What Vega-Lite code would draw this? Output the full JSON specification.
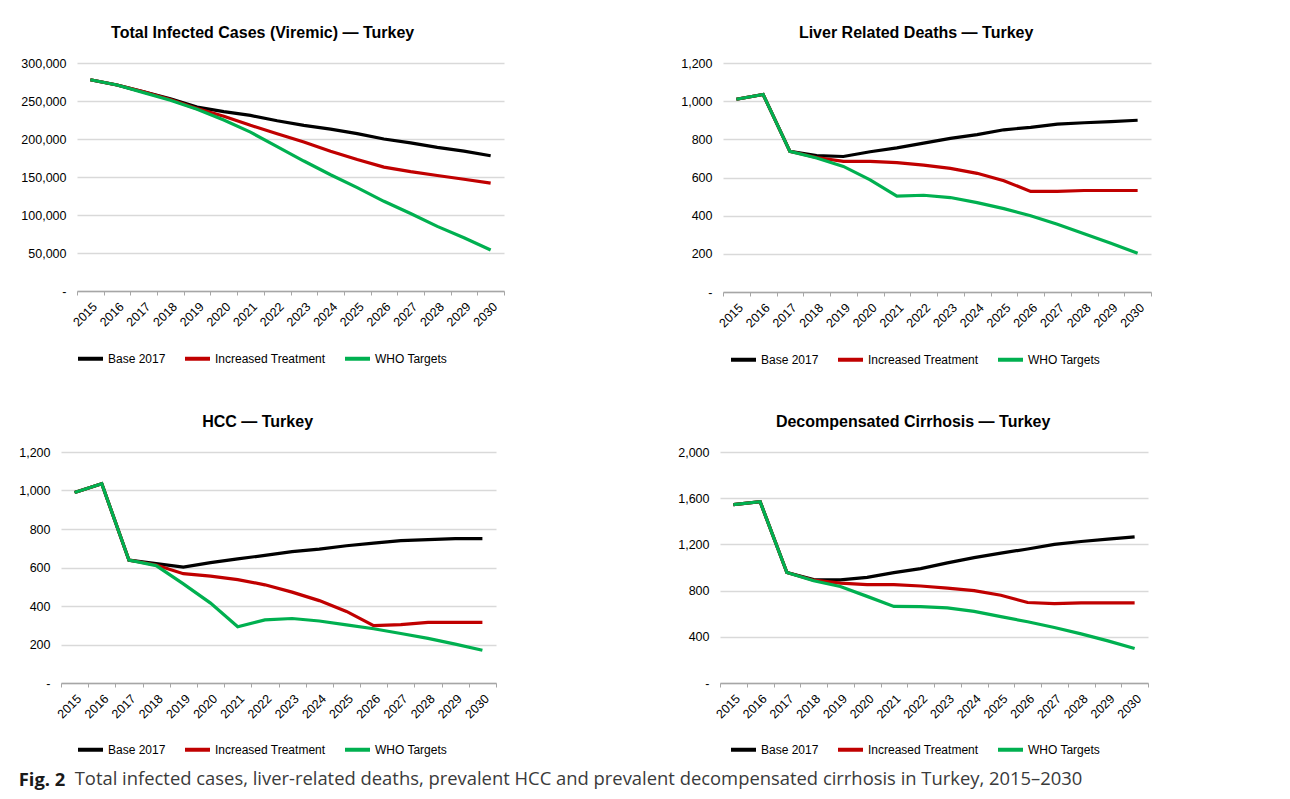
{
  "$schema": "https://vega.github.io/schema/vega-lite/v6.json",
  "padding": {"left": 18, "top": 25, "right": 10, "bottom": 5},
  "background": "#ffffff",
  "datasets": {
    "total": [
      {"year": "2015", "Base 2017": 278000, "Increased Treatment": 278000, "WHO Targets": 278000},
      {"year": "2016", "Base 2017": 271000, "Increased Treatment": 271000, "WHO Targets": 271000},
      {"year": "2017", "Base 2017": 262000, "Increased Treatment": 262000, "WHO Targets": 261000},
      {"year": "2018", "Base 2017": 253000, "Increased Treatment": 252000, "WHO Targets": 251000},
      {"year": "2019", "Base 2017": 242000, "Increased Treatment": 240000, "WHO Targets": 239000},
      {"year": "2020", "Base 2017": 236000, "Increased Treatment": 230000, "WHO Targets": 225000},
      {"year": "2021", "Base 2017": 231000, "Increased Treatment": 218000, "WHO Targets": 209000},
      {"year": "2022", "Base 2017": 224000, "Increased Treatment": 207000, "WHO Targets": 190000},
      {"year": "2023", "Base 2017": 218000, "Increased Treatment": 196000, "WHO Targets": 171000},
      {"year": "2024", "Base 2017": 213000, "Increased Treatment": 184000, "WHO Targets": 153000},
      {"year": "2025", "Base 2017": 207000, "Increased Treatment": 173000, "WHO Targets": 136000},
      {"year": "2026", "Base 2017": 200000, "Increased Treatment": 163000, "WHO Targets": 118000},
      {"year": "2027", "Base 2017": 195000, "Increased Treatment": 157000, "WHO Targets": 102000},
      {"year": "2028", "Base 2017": 189000, "Increased Treatment": 152000, "WHO Targets": 85000},
      {"year": "2029", "Base 2017": 184000, "Increased Treatment": 147000, "WHO Targets": 70000},
      {"year": "2030", "Base 2017": 178000, "Increased Treatment": 142000, "WHO Targets": 54000}
    ],
    "deaths": [
      {"year": "2015", "Base 2017": 1010, "Increased Treatment": 1010, "WHO Targets": 1010},
      {"year": "2016", "Base 2017": 1035, "Increased Treatment": 1035, "WHO Targets": 1035},
      {"year": "2017", "Base 2017": 737, "Increased Treatment": 737, "WHO Targets": 737},
      {"year": "2018", "Base 2017": 715, "Increased Treatment": 705, "WHO Targets": 702},
      {"year": "2019", "Base 2017": 710, "Increased Treatment": 685, "WHO Targets": 658},
      {"year": "2020", "Base 2017": 735, "Increased Treatment": 685, "WHO Targets": 588},
      {"year": "2021", "Base 2017": 755, "Increased Treatment": 678, "WHO Targets": 502},
      {"year": "2022", "Base 2017": 780, "Increased Treatment": 665, "WHO Targets": 507},
      {"year": "2023", "Base 2017": 805, "Increased Treatment": 648, "WHO Targets": 495},
      {"year": "2024", "Base 2017": 825, "Increased Treatment": 622, "WHO Targets": 468},
      {"year": "2025", "Base 2017": 850, "Increased Treatment": 583, "WHO Targets": 437},
      {"year": "2026", "Base 2017": 863, "Increased Treatment": 527, "WHO Targets": 400},
      {"year": "2027", "Base 2017": 880, "Increased Treatment": 527, "WHO Targets": 355},
      {"year": "2028", "Base 2017": 887, "Increased Treatment": 532, "WHO Targets": 305},
      {"year": "2029", "Base 2017": 893, "Increased Treatment": 532, "WHO Targets": 255},
      {"year": "2030", "Base 2017": 900, "Increased Treatment": 532, "WHO Targets": 203}
    ],
    "hcc": [
      {"year": "2015", "Base 2017": 990, "Increased Treatment": 990, "WHO Targets": 990},
      {"year": "2016", "Base 2017": 1035, "Increased Treatment": 1035, "WHO Targets": 1035},
      {"year": "2017", "Base 2017": 638, "Increased Treatment": 638, "WHO Targets": 638},
      {"year": "2018", "Base 2017": 620, "Increased Treatment": 613, "WHO Targets": 610},
      {"year": "2019", "Base 2017": 602, "Increased Treatment": 568, "WHO Targets": 515},
      {"year": "2020", "Base 2017": 625, "Increased Treatment": 555, "WHO Targets": 415},
      {"year": "2021", "Base 2017": 645, "Increased Treatment": 537, "WHO Targets": 292},
      {"year": "2022", "Base 2017": 663, "Increased Treatment": 510, "WHO Targets": 328},
      {"year": "2023", "Base 2017": 682, "Increased Treatment": 472, "WHO Targets": 335},
      {"year": "2024", "Base 2017": 695, "Increased Treatment": 428, "WHO Targets": 322},
      {"year": "2025", "Base 2017": 713, "Increased Treatment": 372, "WHO Targets": 302},
      {"year": "2026", "Base 2017": 727, "Increased Treatment": 298, "WHO Targets": 282},
      {"year": "2027", "Base 2017": 740, "Increased Treatment": 303, "WHO Targets": 257},
      {"year": "2028", "Base 2017": 745, "Increased Treatment": 315, "WHO Targets": 232},
      {"year": "2029", "Base 2017": 750, "Increased Treatment": 315, "WHO Targets": 202},
      {"year": "2030", "Base 2017": 750, "Increased Treatment": 315, "WHO Targets": 170}
    ],
    "dc": [
      {"year": "2015", "Base 2017": 1545, "Increased Treatment": 1545, "WHO Targets": 1545},
      {"year": "2016", "Base 2017": 1570, "Increased Treatment": 1570, "WHO Targets": 1570},
      {"year": "2017", "Base 2017": 957, "Increased Treatment": 957, "WHO Targets": 957},
      {"year": "2018", "Base 2017": 895, "Increased Treatment": 890, "WHO Targets": 885},
      {"year": "2019", "Base 2017": 893, "Increased Treatment": 865, "WHO Targets": 835},
      {"year": "2020", "Base 2017": 915, "Increased Treatment": 852, "WHO Targets": 750},
      {"year": "2021", "Base 2017": 955, "Increased Treatment": 852, "WHO Targets": 663},
      {"year": "2022", "Base 2017": 990, "Increased Treatment": 840, "WHO Targets": 662},
      {"year": "2023", "Base 2017": 1040, "Increased Treatment": 822, "WHO Targets": 650},
      {"year": "2024", "Base 2017": 1085, "Increased Treatment": 800, "WHO Targets": 620},
      {"year": "2025", "Base 2017": 1125, "Increased Treatment": 760, "WHO Targets": 575},
      {"year": "2026", "Base 2017": 1160, "Increased Treatment": 697, "WHO Targets": 530},
      {"year": "2027", "Base 2017": 1200, "Increased Treatment": 687, "WHO Targets": 480},
      {"year": "2028", "Base 2017": 1225, "Increased Treatment": 693, "WHO Targets": 425},
      {"year": "2029", "Base 2017": 1245, "Increased Treatment": 693, "WHO Targets": 365},
      {"year": "2030", "Base 2017": 1265, "Increased Treatment": 693, "WHO Targets": 298}
    ],
    "empty": []
  },
  "title": {
    "text": "Total infected cases, liver-related deaths, prevalent HCC and prevalent decompensated cirrhosis in Turkey, 2015–2030",
    "orient": "bottom",
    "anchor": "start",
    "frame": "bounds",
    "font": "Open Sans",
    "fontSize": 18.4,
    "fontWeight": "normal",
    "color": "#3a3a3a",
    "dx": 56,
    "dy": -19,
    "offset": 0
  },
  "vconcat": [
    {
      "title": {
        "text": "Fig. 2",
        "orient": "bottom",
        "anchor": "start",
        "frame": "bounds",
        "font": "Open Sans",
        "fontSize": 18.4,
        "fontWeight": "bold",
        "color": "#1a1a1a",
        "offset": 13
      },
      "spacing": 46,
      "resolve": {"scale": {"color": "independent"}, "legend": {"color": "independent"}},
      "vconcat": [
        {
          "spacing": 175,
          "resolve": {"scale": {"color": "independent"}, "legend": {"color": "independent"}},
          "hconcat": [
            {
              "spacing": -42,
              "resolve": {"scale": {"color": "independent"}, "legend": {"color": "independent"}},
              "hconcat": [
                {"width": 1, "height": 1, "data": {"name": "empty"}, "mark": "point"},
                {
                  "title": {"text": "Total Infected Cases (Viremic) — Turkey"},
                  "width": 427, "height": 228,
                  "data": {"name": "total"},
                  "transform": [{"fold": ["Base 2017", "Increased Treatment", "WHO Targets"], "as": ["scenario", "value"]}],
                  "mark": {"type": "line", "strokeWidth": 3.2},
                  "encoding": {
                    "x": {"field": "year", "type": "ordinal", "bandPosition": 0.5, "scale": {"type": "band", "paddingInner": 0, "paddingOuter": 0}, "axis": {"title": null}},
                    "y": {"field": "value", "type": "quantitative", "scale": {"domain": [0, 300000]}, "axis": {"title": null, "values": [0, 50000, 100000, 150000, 200000, 250000, 300000], "labelExpr": "datum.value === 0 ? '-' : format(datum.value, ',')"}},
                    "color": {"field": "scenario", "type": "nominal", "scale": {"domain": ["Base 2017", "Increased Treatment", "WHO Targets"], "range": ["#000000", "#C00000", "#00B050"]}, "legend": {"title": null, "orient": "none", "direction": "horizontal", "legendX": -1, "legendY": 281}}
                  }
                }
              ]
            },
            {
              "title": {"text": "Liver Related Deaths — Turkey"},
              "width": 428, "height": 229,
              "data": {"name": "deaths"},
              "transform": [{"fold": ["Base 2017", "Increased Treatment", "WHO Targets"], "as": ["scenario", "value"]}],
              "mark": {"type": "line", "strokeWidth": 3.2},
              "encoding": {
                "x": {"field": "year", "type": "ordinal", "bandPosition": 0.5, "scale": {"type": "band", "paddingInner": 0, "paddingOuter": 0}, "axis": {"title": null}},
                "y": {"field": "value", "type": "quantitative", "scale": {"domain": [0, 1200]}, "axis": {"title": null, "values": [0, 200, 400, 600, 800, 1000, 1200], "labelExpr": "datum.value === 0 ? '-' : format(datum.value, ',')"}},
                "color": {"field": "scenario", "type": "nominal", "scale": {"domain": ["Base 2017", "Increased Treatment", "WHO Targets"], "range": ["#000000", "#C00000", "#00B050"]}, "legend": {"title": null, "orient": "none", "direction": "horizontal", "legendX": 6, "legendY": 282}}
              }
            }
          ]
        },
        {
          "spacing": 180,
          "resolve": {"scale": {"color": "independent"}, "legend": {"color": "independent"}},
          "hconcat": [
            {
              "title": {"text": "HCC — Turkey"},
              "width": 435, "height": 231,
              "data": {"name": "hcc"},
              "transform": [{"fold": ["Base 2017", "Increased Treatment", "WHO Targets"], "as": ["scenario", "value"]}],
              "mark": {"type": "line", "strokeWidth": 3.2},
              "encoding": {
                "x": {"field": "year", "type": "ordinal", "bandPosition": 0.5, "scale": {"type": "band", "paddingInner": 0, "paddingOuter": 0}, "axis": {"title": null}},
                "y": {"field": "value", "type": "quantitative", "scale": {"domain": [0, 1200]}, "axis": {"title": null, "values": [0, 200, 400, 600, 800, 1000, 1200], "labelExpr": "datum.value === 0 ? '-' : format(datum.value, ',')"}},
                "color": {"field": "scenario", "type": "nominal", "scale": {"domain": ["Base 2017", "Increased Treatment", "WHO Targets"], "range": ["#000000", "#C00000", "#00B050"]}, "legend": {"title": null, "orient": "none", "direction": "horizontal", "legendX": 15, "legendY": 283}}
              }
            },
            {
              "title": {"text": "Decompensated Cirrhosis — Turkey"},
              "width": 428, "height": 231,
              "data": {"name": "dc"},
              "transform": [{"fold": ["Base 2017", "Increased Treatment", "WHO Targets"], "as": ["scenario", "value"]}],
              "mark": {"type": "line", "strokeWidth": 3.2},
              "encoding": {
                "x": {"field": "year", "type": "ordinal", "bandPosition": 0.5, "scale": {"type": "band", "paddingInner": 0, "paddingOuter": 0}, "axis": {"title": null}},
                "y": {"field": "value", "type": "quantitative", "scale": {"domain": [0, 2000]}, "axis": {"title": null, "values": [0, 400, 800, 1200, 1600, 2000], "labelExpr": "datum.value === 0 ? '-' : format(datum.value, ',')"}},
                "color": {"field": "scenario", "type": "nominal", "scale": {"domain": ["Base 2017", "Increased Treatment", "WHO Targets"], "range": ["#000000", "#C00000", "#00B050"]}, "legend": {"title": null, "orient": "none", "direction": "horizontal", "legendX": 9, "legendY": 283}}
              }
            }
          ]
        }
      ]
    }
  ],
  "config": {
    "font": "Liberation Sans",
    "view": {"stroke": null},
    "title": {"font": "Liberation Sans", "fontSize": 16, "fontWeight": "bold", "color": "#000000", "anchor": "middle", "frame": "bounds", "offset": 16},
    "axis": {"labelFont": "Liberation Sans", "labelFontSize": 12.5, "labelColor": "#000000"},
    "axisY": {"domain": false, "ticks": false, "grid": true, "gridColor": "#d9d9d9", "gridWidth": 1.3, "labelPadding": 11},
    "axisX": {"grid": false, "domainColor": "#a6a6a6", "domainWidth": 1.3, "tickColor": "#a6a6a6", "tickSize": 4, "tickBand": "extent", "labelAngle": -45, "labelPadding": 5},
    "legend": {"symbolType": "stroke", "symbolStrokeWidth": 4, "symbolSize": 625, "labelFont": "Liberation Sans", "labelFontSize": 12, "labelColor": "#000000", "columnPadding": 11, "labelOffset": 3}
  }
}
